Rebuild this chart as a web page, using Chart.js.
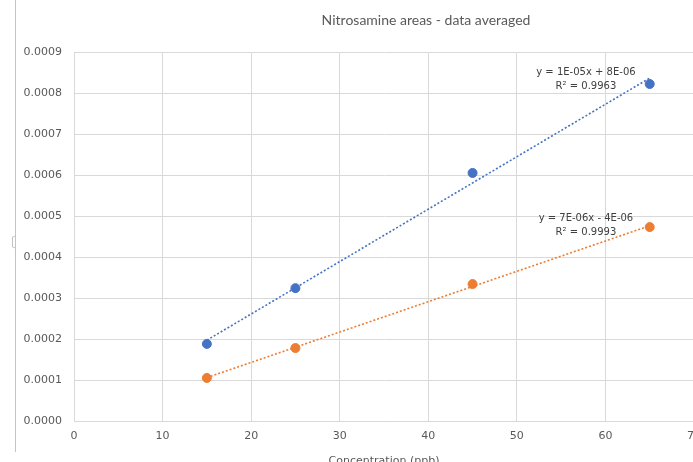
<!DOCTYPE html>
<html>
<head>
<meta charset="utf-8">
<script src="https://cdn.jsdelivr.net/npm/chart.js@4/dist/chart.umd.min.js"></script>
<style>
  html, body { margin: 0; padding: 0; background: #fff; overflow: hidden; }
  #wrap { width: 720px; height: 468px; }
</style>
</head>
<body>
<div id="wrap"><canvas id="grafico" width="720" height="468"></canvas></div>
<script>
// valores
const concentraciones = [15, 25, 45, 65];
const areasAzul = [0.000188, 0.000324, 0.000605, 0.000822];
const areasNaranja = [0.000105, 0.000178, 0.000334, 0.000473];
const ecuaciones = [
  ["y = 1E-05x + 8E-06", "R\u00b2 = 0.9963"],
  ["y = 7E-06x - 4E-06", "R\u00b2 = 0.9993"]
];
// posicion de las etiquetas en unidades de datos
const etiquetaX = [57.8, 57.8];
const etiquetaY = [[0.000851, 0.000815], [0.000495, 0.000459]];

const azul = "#4472C4";
const naranja = "#ED7D31";
const fuente = "'DejaVu Sans', sans-serif";

function tendencia(xs, ys) {
  const n = xs.length;
  const mx = xs.reduce((a, b) => a + b) / n;
  const my = ys.reduce((a, b) => a + b) / n;
  let sxy = 0, sxx = 0;
  xs.forEach((x, i) => { sxy += (x - mx) * (ys[i] - my); sxx += (x - mx) ** 2; });
  const m = sxy / sxx, b = my - m * mx;
  const x0 = xs[0], x1 = xs[n - 1];
  return [{ x: x0, y: m * x0 + b }, { x: x1, y: m * x1 + b }];
}

const puntos = (ys) => concentraciones.map((x, i) => ({ x, y: ys[i] }));

const extras = {
  id: "extras",
  afterDraw(chart) {
    const { ctx, scales } = chart;
    ctx.save();
    // titulo
    ctx.fillStyle = "#595959";
    ctx.font = "14px Lato, 'Open Sans', sans-serif";
    ctx.textAlign = "center";
    ctx.textBaseline = "middle";
    ctx.fillText("Nitrosamine areas - data averaged", 426, 20);
    // ecuaciones de tendencia
    ctx.fillStyle = "#404040";
    ctx.font = "10px " + fuente;
    ecuaciones.forEach((lineas, i) => {
      lineas.forEach((t, j) => {
        ctx.fillText(t, scales.x.getPixelForValue(etiquetaX[i]), scales.y.getPixelForValue(etiquetaY[i][j]));
      });
    });
    // borde recortado a la izquierda
    ctx.strokeStyle = "#c4c4c4";
    ctx.lineWidth = 1;
    ctx.beginPath();
    ctx.moveTo(15.5, 0);
    ctx.lineTo(15.5, 452);
    ctx.stroke();
    ctx.beginPath();
    ctx.moveTo(15.5, 236);
    ctx.lineTo(12.5, 237);
    ctx.lineTo(12.5, 247);
    ctx.lineTo(15.5, 248);
    ctx.stroke();
    ctx.restore();
  }
};

new Chart(document.getElementById("grafico"), {
  type: "scatter",
  data: {
    datasets: [
      { label: "azul", data: puntos(areasAzul), backgroundColor: azul, borderColor: azul, pointRadius: 4.5, pointHoverRadius: 4.5 },
      { label: "naranja", data: puntos(areasNaranja), backgroundColor: naranja, borderColor: naranja, pointRadius: 4.5, pointHoverRadius: 4.5 },
      { type: "line", data: tendencia(concentraciones, areasAzul), borderColor: azul, borderWidth: 1.6, borderDash: [2, 2], pointRadius: 0, fill: false },
      { type: "line", data: tendencia(concentraciones, areasNaranja), borderColor: naranja, borderWidth: 1.6, borderDash: [2, 2], pointRadius: 0, fill: false }
    ]
  },
  options: {
    responsive: false,
    devicePixelRatio: 1,
    animation: false,
    layout: { padding: { top: 52, right: 26, left: 0, bottom: 0 } },
    plugins: { legend: { display: false }, tooltip: { enabled: false } },
    scales: {
      x: {
        type: "linear",
        min: 0,
        max: 70,
        ticks: { stepSize: 10, color: "#595959", font: { size: 11, family: fuente }, padding: 9 },
        grid: { color: "#d9d9d9", drawTicks: false },
        border: { color: "#d9d9d9" },
        title: { display: true, text: "Concentration (ppb)", color: "#595959", font: { size: 11, family: fuente }, padding: { top: 2, bottom: 0 } },
        afterFit(scale) { scale.height = 47; }
      },
      y: {
        min: 0,
        max: 0.0009,
        ticks: {
          stepSize: 0.0001,
          color: "#595959",
          font: { size: 11, family: fuente },
          padding: 12,
          callback: (v) => Number(v).toFixed(4)
        },
        grid: { color: "#d9d9d9", drawTicks: false },
        border: { color: "#d9d9d9" },
        afterFit(scale) { scale.width = 74; }
      }
    }
  },
  plugins: [extras]
});
</script>
</body>
</html>
